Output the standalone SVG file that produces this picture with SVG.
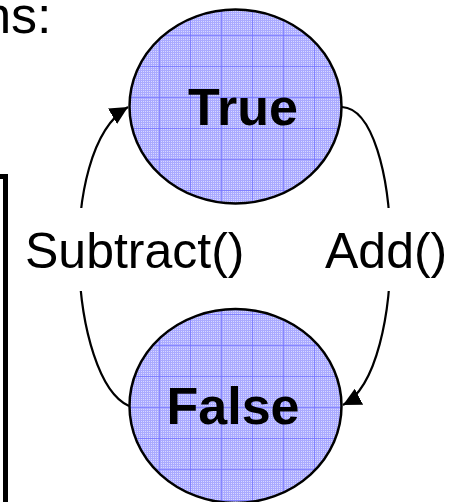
<svg xmlns="http://www.w3.org/2000/svg" width="464" height="502" viewBox="0 0 464 502">
<defs>
<pattern id="grid" patternUnits="userSpaceOnUse" width="2" height="2">
<rect width="2" height="2" fill="#d8d8ff"/>
<rect width="1" height="2" fill="#aaaaff"/>
<rect width="2" height="1" fill="#aaaaff"/>
</pattern>
<pattern id="major" patternUnits="userSpaceOnUse" x="4" y="4" width="31" height="31">
<rect width="1" height="31" fill="#7070ff" fill-opacity="0.7"/>
<rect width="31" height="1" fill="#7070ff" fill-opacity="0.7"/>
</pattern>
<marker id="arrow" markerUnits="userSpaceOnUse" markerWidth="20" markerHeight="18" refX="18" refY="9" orient="auto">
<path d="M0,0 L18,9 L0,18 Z" fill="#000"/>
</marker>
<style>
.fine{fill:url(#grid);stroke:none}
.state{fill:url(#major);stroke:#000;stroke-width:2.5}
.stlabel{font-family:"Liberation Sans",Arial,sans-serif;font-weight:bold;font-size:52px;fill:#000;text-anchor:middle}
.elabel{font-family:"Liberation Sans",Arial,sans-serif;font-size:50px;fill:#000}
.edge{fill:none;stroke:#000;stroke-width:2.2}
</style>
</defs>
<rect width="464" height="502" fill="#fff"/>
<text x="51.5" y="33" class="elabel" style="font-size:52px" text-anchor="end">ns:</text>
<path d="M-10,176.5 H5.5 V510" fill="none" stroke="#000" stroke-width="5"/>
<g id="connectors">
<path class="edge" d="M129,406 C70,380 55,150 128,107" marker-end="url(#arrow)"/>
<path class="edge" d="M342,107 C403,110 410,370 343,405" marker-end="url(#arrow)"/>
<rect x="20" y="208" width="235" height="83" fill="#fff"/>
<rect x="320" y="208" width="135" height="83" fill="#fff"/>
<text x="25" y="268" class="elabel">Subtract()</text>
<text x="325" y="268" class="elabel">Add()</text>
</g>
<g id="node-true">
<ellipse class="fine" cx="235.5" cy="106.5" rx="106" ry="97"/>
<ellipse class="state" cx="235.5" cy="106.5" rx="106" ry="97"/>
<text x="243" y="125" class="stlabel">True</text>
</g>
<g id="node-false">
<ellipse class="fine" cx="235.5" cy="406" rx="106" ry="97"/>
<ellipse class="state" cx="235.5" cy="406" rx="106" ry="97"/>
<text x="233" y="424" class="stlabel">False</text>
</g>
</svg>
